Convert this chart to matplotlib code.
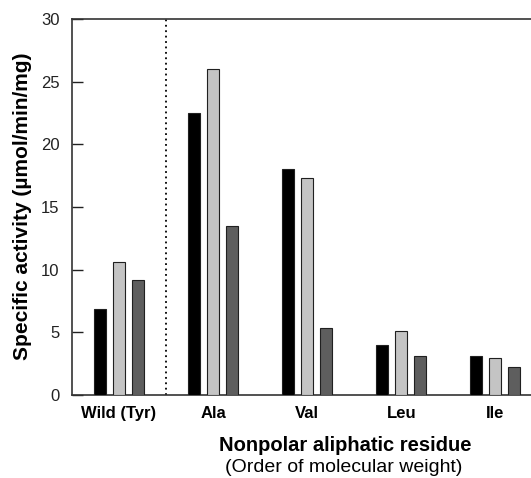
import numpy as np
import matplotlib.pyplot as plt

plt.rcParams['font.family'] = ['Liberation Sans', 'DejaVu Sans']

# data
residues = ["Wild (Tyr)", "Ala", "Val", "Leu", "Ile"]
series_a = [6.9, 22.5, 18.0, 4.0, 3.1]
series_b = [10.6, 26.0, 17.35, 5.1, 2.95]
series_c = [9.15, 13.5, 5.35, 3.15, 2.25]
yticks = [0, 5, 10, 15, 20, 25, 30]

fig = plt.figure(figsize=(5.31, 4.78), dpi=100)
ax = fig.add_axes([0.1356, 0.1736, 0.8644, 0.7867])

x = np.arange(len(residues))
w = 0.128
step = 0.2
colors = ["#000000", "#c4c4c4", "#5e5e5e"]
for i, vals in enumerate([series_a, series_b, series_c]):
    ax.bar(x + (i - 1) * step, vals, width=w, color=colors[i],
           edgecolor="#202020", linewidth=0.8, zorder=3)

# dotted separator between wild type and mutants
ax.axvline(0.5, color="black", linestyle=(0, (1, 2)), linewidth=1.3, zorder=2)

ax.set_xlim(-0.5, 4.38)
ax.set_ylim(0, 30)
ax.set_yticks(yticks)
ax.set_xticks(x)
ax.set_xticklabels(residues, fontsize=12, fontweight="bold")
ax.tick_params(axis="x", length=0, pad=8)
ax.tick_params(axis="y", direction="in", length=8, width=1, pad=9,
               labelsize=12, colors="#222222")

for side in ["left", "bottom", "top"]:
    ax.spines[side].set_linewidth(1.2)
    ax.spines[side].set_color("#333333")
ax.spines["right"].set_visible(False)

ax.set_ylabel("Specific activity (µmol/min/mg)", fontsize=15,
              fontweight="bold")
ax.yaxis.set_label_coords(-0.088, 0.503)

fig.text(0.65, 0.069, "Nonpolar aliphatic residue", ha="center", va="center",
         fontsize=14.5, fontweight="bold")
fig.text(0.648, 0.023, "(Order of molecular weight)", ha="center", va="center",
         fontsize=14)

fig.savefig("out.png", dpi=100)
